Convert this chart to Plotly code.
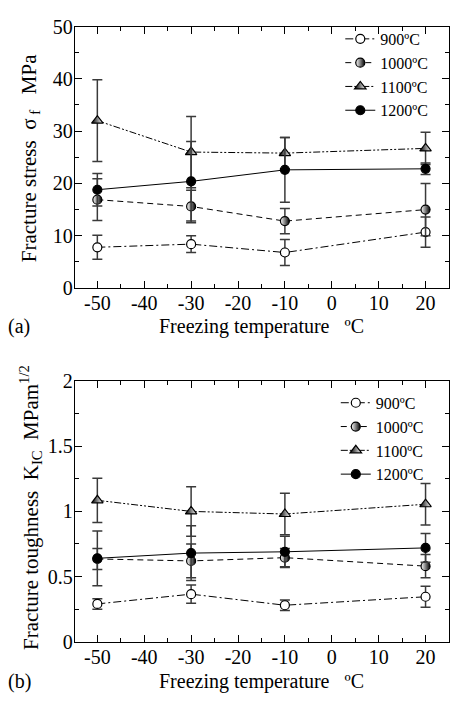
import plotly.graph_objects as go

temps = [-50, -30, -10, 20]

# (a) Fracture stress, MPa
s900 = [7.8, 8.4, 6.8, 10.7]
e900 = [2.3, 1.6, 2.5, 2.9]
s1000 = [16.9, 15.6, 12.8, 15.0]
e1000 = [4.0, 3.1, 2.4, 5.0]
s1100 = [32.0, 26.0, 25.8, 26.7]
e1100 = [7.8, 6.8, 3.0, 3.1]
s1200 = [18.8, 20.4, 22.6, 22.8]
e1200 = [3.1, 7.6, 6.2, 1.1]

# (b) Fracture toughness, MPa m^1/2
k900 = [0.29, 0.365, 0.28, 0.345]
ek900 = [0.04, 0.07, 0.04, 0.08]
k1000 = [0.635, 0.62, 0.645, 0.58]
ek1000 = [0.08, 0.13, 0.07, 0.09]
k1100 = [1.085, 1.0, 0.98, 1.055]
ek1100 = [0.17, 0.19, 0.16, 0.16]
k1200 = [0.64, 0.68, 0.69, 0.72]
ek1200 = [0.21, 0.21, 0.12, 0.11]

labels = ["900ºC", "1000ºC", "1100ºC", "1200ºC"]

FONT = "Liberation Serif, Times New Roman, serif"
ERRC = "#3a3a3a"

styles = [
    dict(dash="8px,3px,2px,3px", marker=dict(symbol="circle", size=9, color="white",
                                            line=dict(color="black", width=1.2))),
    dict(dash="6px,4px", marker=dict(symbol="circle", size=9, color="white",
                                     gradient=dict(type="horizontal", color="black"),
                                     line=dict(color="black", width=1.2))),
    dict(dash="7px,2px,2px,2px,2px,2px", marker=dict(symbol="triangle-up", size=10, color="black",
                                                    gradient=dict(type="horizontal", color="white"),
                                                    line=dict(color="black", width=1.2))),
    dict(dash="solid", marker=dict(symbol="circle", size=9, color="black",
                                   line=dict(color="black", width=1.2))),
]

fig = go.Figure()

top_sets = [(s900, e900), (s1000, e1000), (s1100, e1100), (s1200, e1200)]
bot_sets = [(k900, ek900), (k1000, ek1000), (k1100, ek1100), (k1200, ek1200)]

for i, (vals, errs) in enumerate(top_sets):
    st = styles[i]
    fig.add_trace(go.Scatter(
        x=temps, y=vals, name=labels[i], mode="lines+markers",
        line=dict(color="black", width=1, dash=st["dash"]),
        marker=st["marker"],
        error_y=dict(type="data", array=errs, visible=True, color=ERRC, thickness=1.5, width=5),
        xaxis="x", yaxis="y", legend="legend",
    ))

for i, (vals, errs) in enumerate(bot_sets):
    st = styles[i]
    fig.add_trace(go.Scatter(
        x=temps, y=vals, name=labels[i], mode="lines+markers",
        line=dict(color="black", width=1, dash=st["dash"]),
        marker=st["marker"],
        error_y=dict(type="data", array=errs, visible=True, color=ERRC, thickness=1.5, width=5),
        xaxis="x2", yaxis="y2", legend="legend2",
    ))

xdom = [75 / 450, 1.0]
H = 706.0
ydom_top = [(H - 286) / H, (H - 16) / H]
ydom_bot = [(H - 651) / H, (H - 382) / H]

axis_common = dict(
    showline=True, linecolor="black", linewidth=1.2, mirror="allticks",
    ticks="inside", ticklen=7, tickwidth=1.2, tickcolor="black",
    showgrid=False, zeroline=False,
    tickfont=dict(family=FONT, size=20, color="black"),
)

xcommon = dict(axis_common, range=[-54.8, 25], tickmode="array",
               tickvals=[-50, -40, -30, -20, -10, 0, 10, 20],
               ticktext=["-50", "-40", "-30", "-20", "-10", "0", "10", "20"],
               ticklabelstandoff=-3,
               minor=dict(ticks="inside", ticklen=4, tickwidth=1.2, tickcolor="black", dtick=5, tick0=0))

fig.update_layout(
    width=450, height=706,
    margin=dict(l=0, r=0, t=0, b=0),
    paper_bgcolor="white", plot_bgcolor="white",
    font=dict(family=FONT, color="black"),
    xaxis=dict(xcommon, domain=xdom, anchor="y"),
    yaxis=dict(axis_common, domain=ydom_top, anchor="x", range=[0, 50], dtick=10, ticklabelstandoff=-3,
               minor=dict(ticks="inside", ticklen=4, tickwidth=1.2, tickcolor="black", dtick=5)),
    xaxis2=dict(xcommon, domain=xdom, anchor="y2"),
    yaxis2=dict(axis_common, domain=ydom_bot, anchor="x2", range=[0, 2], dtick=0.5, ticklabelstandoff=-3,
                minor=dict(ticks="inside", ticklen=4, tickwidth=1.2, tickcolor="black", dtick=0.25)),
    legend=dict(x=0.965, y=0.984, xanchor="right", yanchor="top", bgcolor="rgba(0,0,0,0)",
                font=dict(family=FONT, size=16, color="black"), tracegroupgap=0),
    legend2=dict(x=0.955, y=0.452, xanchor="right", yanchor="top", bgcolor="rgba(0,0,0,0)",
                 font=dict(family=FONT, size=16, color="black"), tracegroupgap=0),
    showlegend=True,
    annotations=[
        dict(text="Freezing temperature   ºC", x=262 / 450, y=(H - 326) / H, xref="paper", yref="paper",
             showarrow=False, font=dict(family=FONT, size=20), xanchor="center", yanchor="middle"),
        dict(text="Freezing temperature   ºC", x=262 / 450, y=(H - 692) / H, xref="paper", yref="paper",
             showarrow=False, font=dict(family=FONT, size=20), xanchor="center", yanchor="middle"),
        dict(text="(a)", x=6 / 450, y=(H - 326) / H, xref="paper", yref="paper",
             showarrow=False, font=dict(family=FONT, size=20), xanchor="left", yanchor="middle"),
        dict(text="(b)", x=6 / 450, y=(H - 692) / H, xref="paper", yref="paper",
             showarrow=False, font=dict(family=FONT, size=20), xanchor="left", yanchor="middle"),
        dict(text="Fracture stress  σ<sub> f</sub>   MPa", x=30 / 450, y=(H - 152) / H, xref="paper", yref="paper",
             showarrow=False, font=dict(family=FONT, size=21), textangle=-90, xanchor="center", yanchor="middle"),
        dict(text="Fracture toughness  K<sub>IC</sub>  MPam<sup>1/2</sup>", x=30 / 450, y=(H - 512) / H,
             xref="paper", yref="paper",
             showarrow=False, font=dict(family=FONT, size=21), textangle=-90, xanchor="center", yanchor="middle"),
    ],
)

fig.write_html("out.html")
